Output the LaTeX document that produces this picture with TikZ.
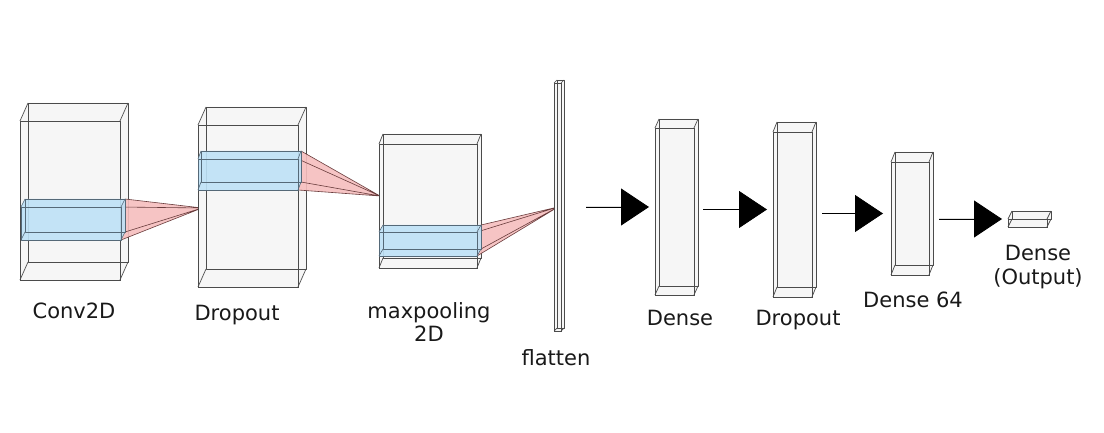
\documentclass[tikz,border=0pt]{standalone}
\usepackage{fontspec}
\setmainfont{DejaVu Sans}
\usetikzlibrary{arrows.meta}
\definecolor{boxfill}{RGB}{246,246,246}
\definecolor{boxedge}{RGB}{75,75,75}
\definecolor{slabfill}{RGB}{190,226,247}
\definecolor{slabedge}{RGB}{85,105,120}
\definecolor{pyrfill}{RGB}{246,190,190}
\definecolor{pyredge}{RGB}{105,60,60}
\definecolor{txt}{RGB}{25,25,25}
\tikzset{
  edge/.style={draw=boxedge, line width=0.7pt, line join=round},
  sedge/.style={draw=slabedge, line width=0.6pt, line join=round},
  frontface/.style={rectangle, draw=boxedge, line width=0.7pt, inner sep=0pt, outer sep=0pt},
  arr/.style={-{Triangle[length=28pt,width=37pt]}, line width=0.8pt, draw=black, fill=black},
  lbl/.style={text=txt, inner sep=0pt, font=\fontsize{21}{23.5}\selectfont, align=center},
}
% name, x, y (front top-left), w, h, dx, dy
\newcommand\cuboid[7]{%
  \fill[boxfill] (#2,#3) -- (#2+#6,#3+#7) -- (#2+#4+#6,#3+#7) -- (#2+#4+#6,#3+#5+#7) -- (#2+#4,#3+#5) -- (#2,#3+#5) -- cycle;
  \draw[edge] (#2+#6,#3+#7) rectangle (#2+#4+#6,#3+#5+#7);
  \draw[edge] (#2,#3) -- (#2+#6,#3+#7) (#2+#4,#3) -- (#2+#4+#6,#3+#7)
              (#2,#3+#5) -- (#2+#6,#3+#5+#7) (#2+#4,#3+#5) -- (#2+#4+#6,#3+#5+#7);
  \node[frontface, minimum width=#4pt, minimum height=#5pt, anchor=north west] (#1) at (#2,#3) {};
  \coordinate (#1-w) at (#2, #3+#5/2+#7/2);
  \coordinate (#1-e) at (#2+#4+#6, #3+#5/2+#7/2);
}
% x, y, w, h, dx, dy, apex
\newcommand\slab[7]{%
  \fill[pyrfill, fill opacity=0.9] (#1+#3,#2) -- (#1+#3+#5,#2+#6) -- (#7) -- (#1+#3,#2+#4) -- cycle;
  \draw[pyredge, line width=0.6pt] (#1+#3,#2) -- (#7) (#1+#3+#5,#2+#6) -- (#7)
        (#1+#3,#2+#4) -- (#7) (#1+#3+#5,#2+#4+#6) -- (#7);
  \fill[slabfill, fill opacity=0.9] (#1,#2) -- (#1+#5,#2+#6) -- (#1+#3+#5,#2+#6) -- (#1+#3+#5,#2+#4+#6) -- (#1+#3,#2+#4) -- (#1,#2+#4) -- cycle;
  \draw[sedge] (#1+#5,#2+#6) rectangle (#1+#3+#5,#2+#4+#6);
  \draw[sedge] (#1,#2) rectangle (#1+#3,#2+#4);
  \draw[sedge] (#1,#2) -- (#1+#5,#2+#6) (#1+#3,#2) -- (#1+#3+#5,#2+#6)
               (#1,#2+#4) -- (#1+#5,#2+#4+#6) (#1+#3,#2+#4) -- (#1+#3+#5,#2+#4+#6);
}
\begin{document}
\begin{tikzpicture}[x=1pt,y=-1pt]
\useasboundingbox[fill=white] (0,0) rectangle (1104,433);
\coordinate (ap1) at (202,208);
\coordinate (ap2) at (380,196);
\coordinate (ap3) at (558,207);
% Conv2D
\cuboid{conv}{20}{121}{100}{159}{8}{-18}
\slab{21}{207}{100}{33}{4}{-8}{ap1}
% Dropout
\cuboid{drop}{198}{125}{100}{162}{8}{-18}
\slab{198}{159}{100}{31}{3}{-8}{ap2}
% maxpooling
\cuboid{pool}{379}{144}{98}{124}{4}{-10}
\slab{379}{232}{98}{24}{4}{-7}{ap3}
% flatten
\cuboid{flat}{554}{83}{7}{248}{3}{-3}
% dense layers
\cuboid{dense}{655}{128}{39}{167}{4}{-9}
\cuboid{dropb}{773}{132}{39}{165}{4}{-10}
\cuboid{dsf}{891}{162}{38}{113}{4}{-10}
\cuboid{out}{1008}{219}{39}{8}{4}{-8}
% arrows
\draw[arr, shorten <=22pt, shorten >=6pt] (flat-e |- dense-w) -- (dense-w);
\draw[arr, shorten <=5pt, shorten >=6pt] (dense-e |- dropb-w) -- (dropb-w);
\draw[arr, shorten <=6pt, shorten >=8pt] (dropb-e |- dsf-w) -- (dsf-w);
\draw[arr, shorten <=6pt, shorten >=6pt] (dsf-e |- out-w) -- (out-w);
% labels
\node[lbl, anchor=base] (l1) at (74,318) {Conv2D};
\node[lbl, anchor=base] (l2) at (237,320) {Dropout};
\node[lbl, anchor=north] (l3) at (429,302) {maxpooling\\2D};
\node[lbl, anchor=base] (l4) at (556,365) {flatten};
\node[lbl, anchor=base] (l5) at (680,325) {Dense};
\node[lbl, anchor=base] (l6) at (798,325) {Dropout};
\node[lbl, anchor=base] (l7) at (913,307) {Dense 64};
\node[lbl, anchor=north] (l8) at (1038,245) {Dense\\(Output)};
\end{tikzpicture}
\end{document}
